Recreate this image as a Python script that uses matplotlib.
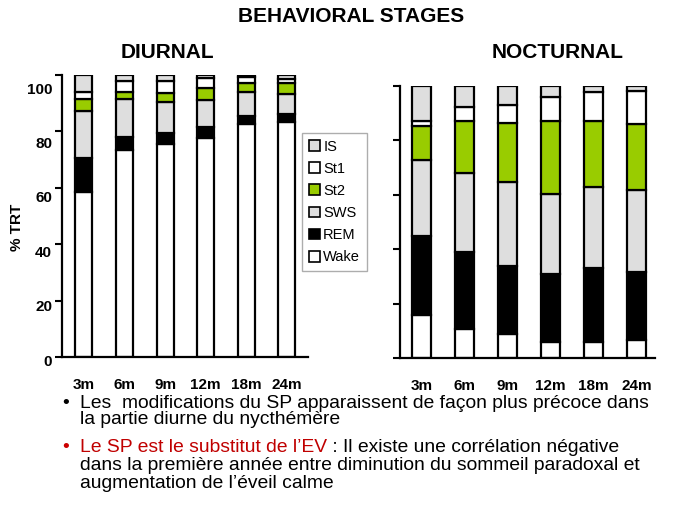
import matplotlib
matplotlib.use('Agg')
import matplotlib.pyplot as plt
from matplotlib.patches import Patch

plt.rcParams['font.family'] = ['Liberation Sans', 'DejaVu Sans']

months = ['3m', '6m', '9m', '12m', '18m', '24m']
stages = ['Wake', 'REM', 'SWS', 'St2', 'St1', 'IS']

# diurnal, % TRT per stage (bottom to top)
wake_d = [58.6, 73.4, 75.5, 77.5, 82.6, 83.2]
rem_d = [11.8, 4.7, 3.8, 3.9, 2.8, 2.8]
sws_d = [16.8, 13.3, 11.2, 9.7, 8.7, 7.1]
st2_d = [4.3, 2.6, 3.0, 4.2, 2.9, 3.9]
st1_d = [2.6, 4.0, 4.5, 3.5, 2.2, 1.6]
is_d = [5.9, 2.0, 2.0, 1.2, 0.8, 1.4]

# nocturnal
wake_n = [15.7, 10.8, 8.8, 5.8, 5.8, 6.7]
rem_n = [29.0, 28.0, 24.9, 25.2, 27.2, 25.1]
sws_n = [28.1, 29.1, 31.0, 29.3, 29.7, 29.8]
st2_n = [12.5, 19.2, 21.6, 27.0, 24.6, 24.3]
st1_n = [1.8, 5.1, 6.7, 8.8, 10.6, 12.4]
is_n = [12.9, 7.8, 7.0, 3.9, 2.1, 1.7]

y_labels = ['0', '20', '40', '60', '80', '100']

colors = {'Wake': 'white', 'REM': 'black', 'SWS': '#dedede',
          'St2': '#99cc00', 'St1': 'white', 'IS': '#dedede'}


def stacked(ax, series, width):
    x = list(range(len(months)))
    bottom = [0] * len(months)
    for name, vals in zip(stages, series):
        ax.bar(x, vals, width, bottom=bottom, color=colors[name],
               edgecolor='black', linewidth=1.6)
        bottom = [b + v for b, v in zip(bottom, vals)]
    ax.set_ylim(0, 100)
    ax.set_xticks(x)
    ax.set_xticklabels(months, fontweight='bold', fontsize=11)
    ax.set_yticks([0, 20, 40, 60, 80, 100])
    ax.set_yticklabels([])
    ax.tick_params(axis='y', direction='out', length=5, width=1.5)
    ax.tick_params(axis='x', length=0, pad=15)
    for s in ['top', 'right']:
        ax.spines[s].set_visible(False)
    for s in ['left', 'bottom']:
        ax.spines[s].set_linewidth(1.6)


fig = plt.figure(figsize=(6.89, 5.17), dpi=100)
W, H = 689, 517

ax1 = fig.add_axes([62 / W, 1 - 357 / H, 246 / W, 282 / H])
stacked(ax1, [wake_d, rem_d, sws_d, st2_d, st1_d, is_d], 0.42)
ax1.set_xlim(-0.54, 5.52)

ax2 = fig.add_axes([400 / W, 1 - 358 / H, 255 / W, 272 / H])
stacked(ax2, [wake_n, rem_n, sws_n, st2_n, st1_n, is_n], 0.42)
ax2.set_xlim(-0.5, 5.43)

# tick labels of the left axis sit slightly off the ticks in the original
axl = fig.add_axes([30 / W, 1 - 360 / H, 10 / W, 272 / H])
axl.set_ylim(0, 100)
axl.set_yticks([0, 20, 40, 60, 80, 100])
axl.set_yticklabels(y_labels, fontweight='bold', fontsize=11)
axl.tick_params(axis='y', length=0, pad=-16)
axl.set_xticks([])
for s in axl.spines.values():
    s.set_visible(False)
axl.patch.set_visible(False)

fig.text(17 / W, 1 - 227 / H, '% TRT', rotation=90, ha='center', va='center',
         fontweight='bold', fontsize=11)

fig.text(351 / W, 1 - 17 / H, 'BEHAVIORAL STAGES', ha='center', va='center',
         fontweight='bold', fontsize=15)
fig.text(167 / W, 1 - 52 / H, 'DIURNAL', ha='center', va='center',
         fontweight='bold', fontsize=15)
fig.text(558 / W, 1 - 52 / H, 'NOCTURNAL', ha='center', va='center',
         fontweight='bold', fontsize=15)

handles = [Patch(facecolor=colors[s], edgecolor='black', linewidth=1.2)
           for s in stages[::-1]]
leg = fig.legend(handles, stages[::-1], loc='upper left',
                 bbox_to_anchor=(302 / W, 1 - 133 / H), fontsize=10.5,
                 frameon=True, fancybox=False, edgecolor='#999999',
                 handlelength=0.75, handleheight=0.75, handletextpad=0.25,
                 labelspacing=0.56, borderpad=0.45, borderaxespad=0)
leg.get_frame().set_linewidth(1.0)

fs = 13.9
fig.text(62 / W, 1 - 403 / H, '•', fontsize=fs, va='center')
fig.text(80 / W, 1 - 403 / H, 'Les  modifications du SP apparaissent de façon plus précoce dans',
         fontsize=fs, va='center')
fig.text(80 / W, 1 - 420 / H, 'la partie diurne du nycthémère', fontsize=fs, va='center')
fig.text(62 / W, 1 - 447 / H, '•', fontsize=fs, va='center', color='#cc0000')
t = fig.text(80 / W, 1 - 447 / H, 'Le SP est le substitut de l\u2019EV', fontsize=fs,
             va='center', color='#c00000')
fig.canvas.draw()
bb = t.get_window_extent()
fig.text(bb.x1 / W, 1 - 447 / H, ' : Il existe une corrélation négative',
         fontsize=fs, va='center')
fig.text(80 / W, 1 - 465 / H, 'dans la première année entre diminution du sommeil paradoxal et',
         fontsize=fs, va='center')
fig.text(80 / W, 1 - 483 / H, 'augmentation de l\u2019éveil calme', fontsize=fs, va='center')

fig.savefig('out.png', dpi=100)
